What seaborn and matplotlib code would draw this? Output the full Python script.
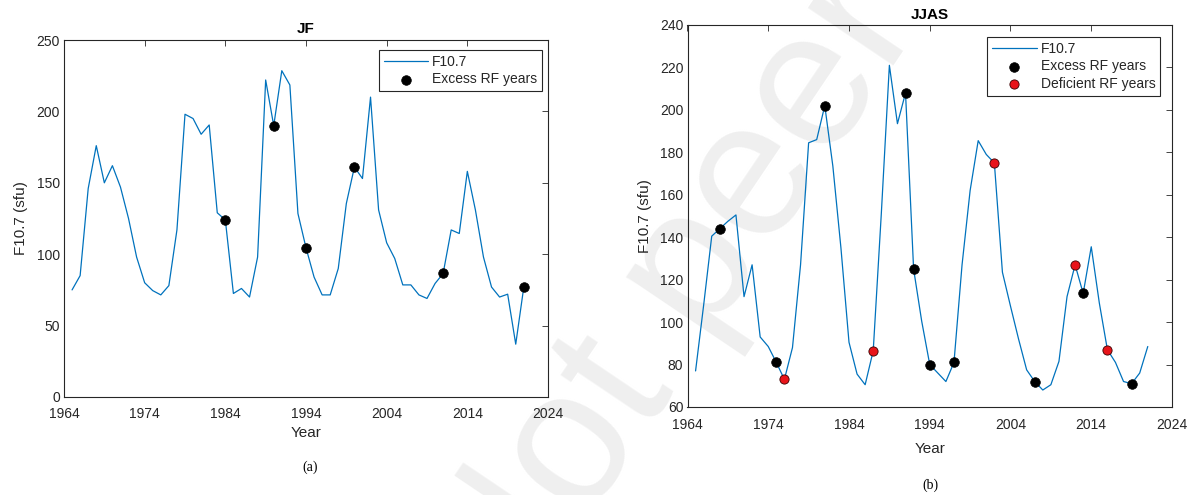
import numpy as np
import pandas as pd
import matplotlib
matplotlib.use("Agg")
import matplotlib.pyplot as plt
import seaborn as sns

# ---- data -------------------------------------------------------------
years = list(range(1965, 2022))

# January-February mean F10.7 (sfu)
jf_f107 = [75, 85, 146, 176, 150, 162, 147, 125, 98, 80,
           74.5, 71.5, 78, 117, 198, 195, 184, 190.5, 129, 124,
           72.5, 76, 70, 98, 222, 190, 228.5, 218.5, 128.5, 104.5,
           84, 71.5, 71.5, 90, 135.5, 161, 153, 210, 131, 108,
           97, 78.5, 78.5, 71.5, 69, 79.5, 86.5, 117, 114.5, 158,
           131, 98, 77, 70, 72, 37, 77]
jf_excess_years = [1984, 1990, 1994, 2000, 2011, 2021]

# June-September mean F10.7 (sfu)
jjas_f107 = [77, 108, 140.5, 144, 147.5, 150.5, 112, 127, 93, 88.5,
             81, 73, 88, 127, 184.5, 186, 202, 173.5, 135, 90.5,
             75.5, 70.5, 86.5, 151, 221, 193.5, 208, 125, 100.5, 80,
             76, 72, 81, 127, 162, 185.5, 179, 175, 123.5, 107.5,
             92, 77.5, 72, 68, 70.5, 81.5, 112, 127, 113.5, 135.5,
             109, 87, 81, 72, 71, 76, 88.5]
jjas_excess_years = [1968, 1975, 1981, 1991, 1992, 1994, 1997, 2007, 2013, 2019]
jjas_deficient_years = [1976, 1987, 2002, 2012, 2016]

# ---- style ------------------------------------------------------------
sns.set_theme(style="white")
plt.rcParams["font.family"] = ["Liberation Sans", "DejaVu Sans"]
AX_COLOR = "#262626"
LINE_COLOR = "#0072BD"
plt.rcParams.update({
    "axes.edgecolor": AX_COLOR,
    "axes.linewidth": 0.8,
    "xtick.color": AX_COLOR,
    "ytick.color": AX_COLOR,
    "xtick.labelsize": 10,
    "ytick.labelsize": 10,
})

fig = plt.figure(figsize=(11.92, 4.95), dpi=100)
W, H = 1192, 495


def px_axes(left, top, right, bottom):
    return fig.add_axes([left / W, 1 - bottom / H, (right - left) / W, (bottom - top) / H])


ax_a = px_axes(64, 40, 548, 397)
ax_b = px_axes(687.5, 25, 1172, 407)

# Watermark behind both panels
fig.text(905 / W, 1 + 42 / H, "Not peer reviewed", rotation=56, fontsize=140,
         color="#efefef", ha="center", va="center", zorder=-5,
         rotation_mode="anchor")


def panel(ax, values, excess, deficient, title, ylim, yticks, legend_anchor,
          xpad, xlabelpad, titlepad):
    ax.set_facecolor("none")
    df = pd.DataFrame({"Year": years, "F10.7": values})
    lookup = df.set_index("Year")["F10.7"]
    sns.lineplot(data=df, x="Year", y="F10.7", ax=ax, color=LINE_COLOR,
                 linewidth=0.9, label="F10.7")
    ex = pd.DataFrame({"Year": excess, "F10.7": lookup.loc[excess].values})
    sns.scatterplot(data=ex, x="Year", y="F10.7", ax=ax, color="black",
                    edgecolor="black", s=48, linewidth=0.5, zorder=3,
                    label="Excess RF years")
    if deficient:
        de = pd.DataFrame({"Year": deficient, "F10.7": lookup.loc[deficient].values})
        sns.scatterplot(data=de, x="Year", y="F10.7", ax=ax, color="#e8141a",
                        edgecolor="#3a0000", s=44, linewidth=0.6, zorder=3,
                        label="Deficient RF years")
    ax.set_xlim(1964, 2024)
    ax.set_xticks(range(1964, 2025, 10))
    ax.set_ylim(*ylim)
    ax.set_yticks(yticks)
    ax.tick_params(direction="in", length=4, width=0.6, top=True, right=True,
                   labelcolor=AX_COLOR, pad=3)
    ax.tick_params(axis="x", pad=xpad)
    for sp in ax.spines.values():
        sp.set_visible(True)
        sp.set_color(AX_COLOR)
    ax.set_xlabel("Year", fontsize=11, color=AX_COLOR, labelpad=xlabelpad)
    ax.set_ylabel("F10.7 (sfu)", fontsize=11, color=AX_COLOR, labelpad=6)
    ax.set_title(title, fontsize=11, fontweight="bold", color="black", pad=titlepad)
    leg = ax.legend(loc="upper right", bbox_to_anchor=legend_anchor,
                    borderaxespad=0, frameon=True, fancybox=False,
                    edgecolor=AX_COLOR, framealpha=1, fontsize=10,
                    handlelength=3.2, handletextpad=0.3, labelspacing=0.25,
                    borderpad=0.35)
    leg.get_frame().set_linewidth(0.8)
    for t in leg.get_texts():
        t.set_color(AX_COLOR)


panel(ax_a, jf_f107, jf_excess_years, [], "JF", (0, 250),
      range(0, 251, 50), (0.988, 0.972), xpad=7.5, xlabelpad=3, titlepad=5)
panel(ax_b, jjas_f107, jjas_excess_years, jjas_deficient_years, "JJAS",
      (60, 240), range(60, 241, 20), (0.976, 0.969), xpad=8, xlabelpad=7,
      titlepad=4)

# Panel captions
fig.text(310 / W, 1 - 467 / H, "(a)", fontsize=10, ha="center", va="center",
         family="Liberation Serif", color="black")
fig.text(930 / W, 1 - 485 / H, "(b)", fontsize=10, ha="center", va="center",
         family="Liberation Serif", color="black")

fig.savefig("out.png", dpi=100, facecolor="white")
